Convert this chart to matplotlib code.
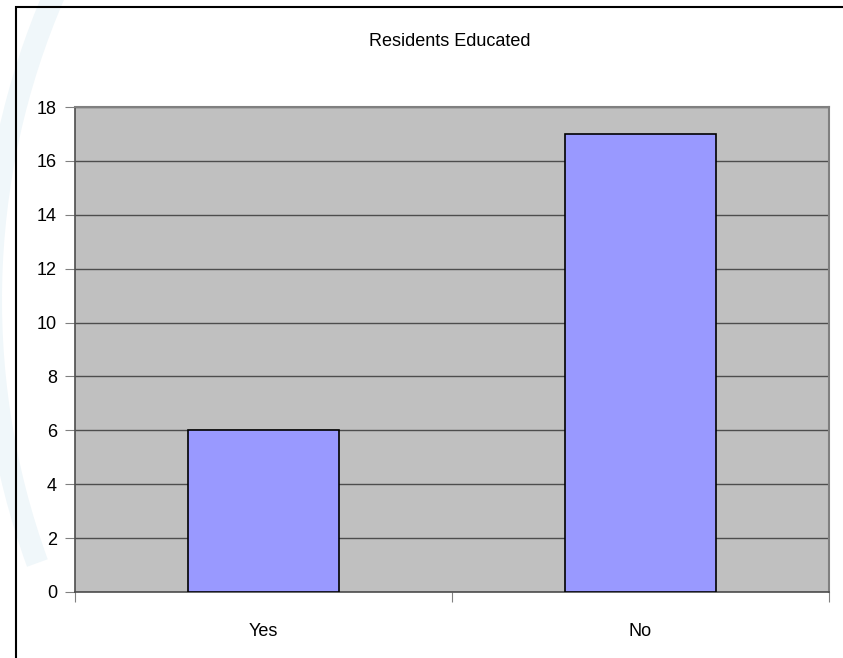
import matplotlib
matplotlib.use("Agg")
import matplotlib.pyplot as plt
from matplotlib.patches import Rectangle, Wedge
import numpy as np

categories = ["Yes", "No"]
values = [6, 17]
yticks = [0, 2, 4, 6, 8, 10, 12, 14, 16, 18]

plt.rcParams['font.family'] = ['Liberation Sans', 'DejaVu Sans']

W, H = 843, 658
fig = plt.figure(figsize=(W / 100, H / 100), dpi=100)
fig.patch.set_facecolor("white")

# faint watermark arc at the far left (drawn in pixel coords)
fig.patches.append(Wedge((760, H - 300), 780, 155, 200, width=22,
                         transform=None, facecolor="#f0f7fa",
                         edgecolor="none", zorder=0))

# outer chart border
fig.patches.append(Rectangle((15.5 / W, -0.05), 1.0, 1 - 6.5 / H + 0.05,
                             transform=fig.transFigure, facecolor="none",
                             edgecolor="black", linewidth=1.5, zorder=1))

ax = fig.add_axes([75 / W, 1 - 592 / H, (829 - 75) / W, (592 - 107) / H])
ax.set_zorder(2)
ax.set_facecolor("#c0c0c0")
x = np.arange(len(categories))
ax.bar(x, values, width=0.4, color="#9999ff", edgecolor="black", linewidth=1.2, zorder=3)
ax.set_xlim(-0.5, 1.5)
ax.set_ylim(0, 18)
ax.set_yticks(yticks)
ax.set_yticklabels([str(t) for t in yticks], fontsize=13)
ax.yaxis.grid(True, color="#4d4d4d", linewidth=1.0)
ax.set_axisbelow(True)

ax.set_xticks([-0.5, 0.5, 1.5])
ax.set_xticklabels([])
ax.set_xticks(x, minor=True)
ax.set_xticklabels(categories, minor=True, fontsize=13)
ax.tick_params(axis='x', which='minor', length=0, pad=22)
ax.tick_params(axis='x', which='major', length=7, color="#808080", direction='out')
ax.tick_params(axis='y', length=7, color="#808080", direction='out', pad=6)

for s in ["top", "right"]:
    ax.spines[s].set_color("#808080")
    ax.spines[s].set_linewidth(1.5)
ax.spines["left"].set_color("#4d4d4d")
ax.spines["bottom"].set_color("#4d4d4d")
ax.spines["left"].set_linewidth(1.2)
ax.spines["bottom"].set_linewidth(1.2)

fig.text(450 / W, 1 - 42 / H, "Residents Educated", ha="center", va="center", fontsize=13, zorder=5)

fig.savefig("out.png", dpi=100)
